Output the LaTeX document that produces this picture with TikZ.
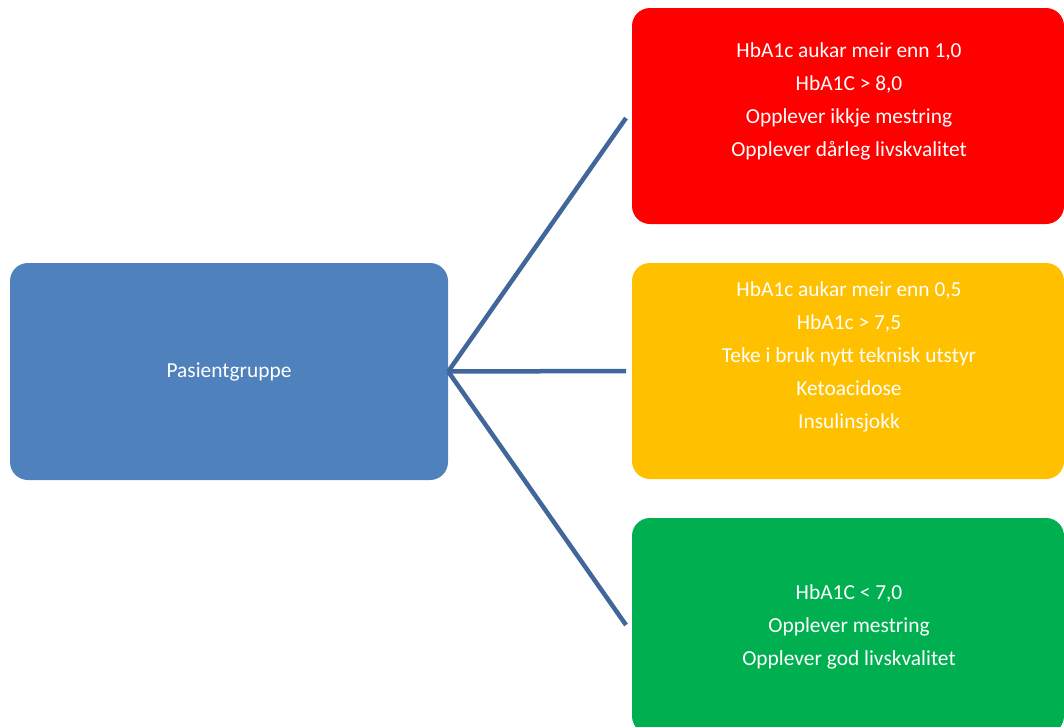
\documentclass[tikz,border=0pt]{standalone}
\usepackage{fontspec}
\setmainfont{Carlito}
\definecolor{boxblue}{HTML}{4F81BD}
\definecolor{boxred}{HTML}{FF0000}
\definecolor{boxyellow}{HTML}{FFC000}
\definecolor{boxgreen}{HTML}{00B050}
\definecolor{linkblue}{HTML}{41679A}
\begin{document}
\begin{tikzpicture}[x=1pt,y=-1pt,
  card/.style={rounded corners=18pt, minimum width=432pt, minimum height=216pt, inner sep=0pt},
  cardtext/.style={text=white, align=center, font=\fontsize{21.4}{33}\selectfont, inner sep=0pt},
  link/.style={draw=linkblue, line width=4.5pt}]
\useasboundingbox (0,0) rectangle (1064,726);
\clip (0,0) rectangle (1064,726);
\node[card, fill=boxblue, minimum width=438pt, minimum height=217pt] (src) at (229,371.5) {};
\node[card, fill=boxred] (red) at (848,116) {};
\node[card, fill=boxyellow] (yellow) at (848,371) {};
\node[card, fill=boxgreen] (green) at (848,626) {};
\node[cardtext] (srct) at (229,372) {Pasientgruppe};
\node[cardtext] (redt) at (849,101) {HbA1c aukar meir enn 1,0\\HbA1C > 8,0\\Opplever ikkje mestring\\Opplever dårleg livskvalitet};
\node[cardtext] (yellowt) at (849,357) {HbA1c aukar meir enn 0,5\\HbA1c > 7,5\\Teke i bruk nytt teknisk utstyr\\Ketoacidose\\Insulinsjokk};
\node[cardtext] (greent) at (849,627) {HbA1C < 7,0\\Opplever mestring\\Opplever god livskvalitet};
\coordinate (e1) at (626,118);
\coordinate (e2) at (626,371);
\coordinate (e3) at (626,625);
\draw[link] (src.east) -- (e1);
\draw[link] (src.east) -- (e2);
\draw[link] (src.east) -- (e3);
\end{tikzpicture}
\end{document}
